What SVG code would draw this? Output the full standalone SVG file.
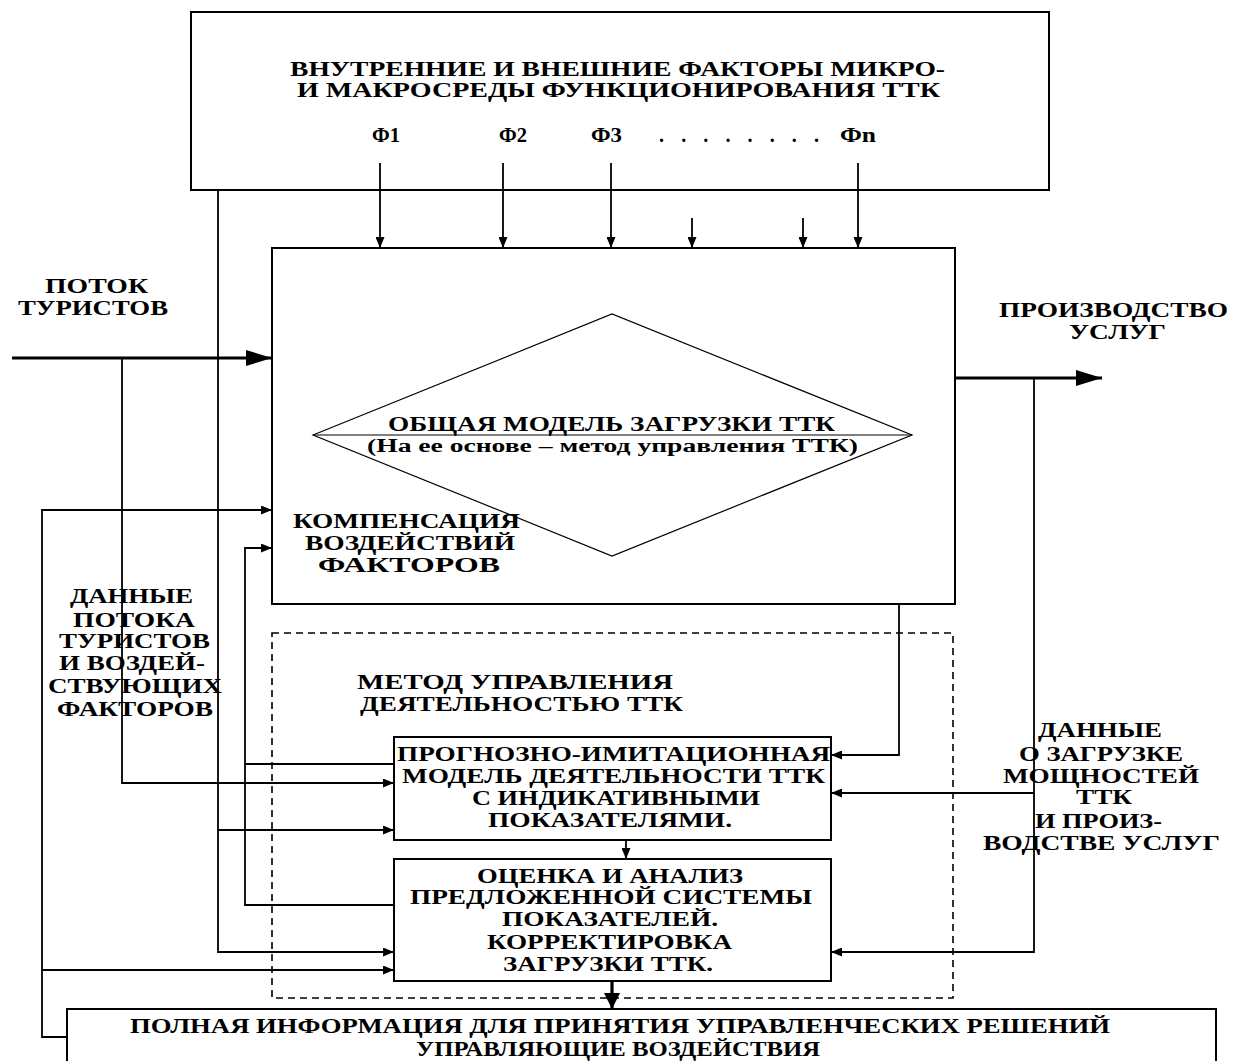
<svg xmlns="http://www.w3.org/2000/svg" width="1238" height="1061" viewBox="0 0 1238 1061">
<style>
.box{fill:none;stroke:#000;stroke-width:2}
.dash{fill:none;stroke:#000;stroke-width:1.6;stroke-dasharray:7 5}
.ln{fill:none;stroke:#000;stroke-width:1.8}
.thick{fill:none;stroke:#000;stroke-width:3.2}
.dia{fill:none;stroke:#000;stroke-width:1.2}
text{font-family:"Liberation Serif","Times New Roman",serif;font-weight:bold;font-size:20px;fill:#000}
.sm{font-size:18px}
</style>
<defs>
<marker id="a" markerUnits="userSpaceOnUse" markerWidth="11" markerHeight="9" refX="11" refY="4.5" orient="auto"><path d="M0,0 L11,4.5 L0,9 z" fill="#000"/></marker>
<marker id="A" markerUnits="userSpaceOnUse" markerWidth="26" markerHeight="16" refX="26" refY="8" orient="auto"><path d="M0,0 L26,8 L0,16 z" fill="#000"/></marker>
<marker id="B" markerUnits="userSpaceOnUse" markerWidth="16" markerHeight="18" refX="16" refY="8" orient="auto"><path d="M0,0 L16,8 L0,16 z" fill="#000"/></marker>
</defs>
<rect width="1238" height="1061" fill="#fff"/>

<g id="factors">
<rect class="box" x="191" y="12" width="858" height="178"/>
<text x="290" y="76" textLength="655" lengthAdjust="spacingAndGlyphs">ВНУТРЕННИЕ И ВНЕШНИЕ ФАКТОРЫ МИКРО-</text>
<text x="297" y="97" textLength="643" lengthAdjust="spacingAndGlyphs">И МАКРОСРЕДЫ ФУНКЦИОНИРОВАНИЯ ТТК</text>
<text x="372" y="142" textLength="28" lengthAdjust="spacingAndGlyphs">Ф1</text>
<text x="499" y="142" textLength="28" lengthAdjust="spacingAndGlyphs">Ф2</text>
<text x="591" y="142" textLength="31" lengthAdjust="spacingAndGlyphs">Ф3</text>
<text x="659" y="142" textLength="160" lengthAdjust="spacing">. . . . . . . .</text>
<text x="840" y="142" textLength="36" lengthAdjust="spacingAndGlyphs">Фn</text>
</g>

<g id="main-model">
<rect class="box" x="272" y="248" width="683" height="356"/>
<polygon class="dia" points="313,435 612,314 912,435 612,556"/>
<line class="dia" x1="313" y1="435" x2="912" y2="435"/>
<text x="388" y="431" textLength="447" lengthAdjust="spacingAndGlyphs">ОБЩАЯ МОДЕЛЬ ЗАГРУЗКИ ТТК</text>
<text class="sm" x="367" y="452" textLength="491" lengthAdjust="spacingAndGlyphs">(На ее основе – метод управления ТТК)</text>
<text x="293" y="528" textLength="227" lengthAdjust="spacingAndGlyphs">КОМПЕНСАЦИЯ</text>
<text x="305" y="550" textLength="210" lengthAdjust="spacingAndGlyphs">ВОЗДЕЙСТВИЙ</text>
<text x="318" y="572" textLength="182" lengthAdjust="spacingAndGlyphs">ФАКТОРОВ</text>
</g>

<g id="input-label">
<text x="45" y="293" textLength="103" lengthAdjust="spacingAndGlyphs">ПОТОК</text>
<text x="18" y="315" textLength="150" lengthAdjust="spacingAndGlyphs">ТУРИСТОВ</text>
</g>

<g id="output-label">
<text x="999" y="317" textLength="229" lengthAdjust="spacingAndGlyphs">ПРОИЗВОДСТВО</text>
<text x="1069" y="339" textLength="97" lengthAdjust="spacingAndGlyphs">УСЛУГ</text>
</g>

<g id="method">
<rect class="dash" x="272" y="633" width="681" height="365"/>
<text x="357" y="689" textLength="316" lengthAdjust="spacingAndGlyphs">МЕТОД   УПРАВЛЕНИЯ</text>
<text x="360" y="711" textLength="323" lengthAdjust="spacingAndGlyphs">ДЕЯТЕЛЬНОСТЬЮ ТТК</text>
</g>

<g id="forecast-model">
<rect class="box" x="394" y="737" width="437" height="103"/>
<text x="397" y="761" textLength="433" lengthAdjust="spacingAndGlyphs">ПРОГНОЗНО-ИМИТАЦИОННАЯ</text>
<text x="402" y="783" textLength="423" lengthAdjust="spacingAndGlyphs">МОДЕЛЬ ДЕЯТЕЛЬНОСТИ ТТК</text>
<text x="472" y="805" textLength="288" lengthAdjust="spacingAndGlyphs">С ИНДИКАТИВНЫМИ</text>
<text x="488" y="827" textLength="244" lengthAdjust="spacingAndGlyphs">ПОКАЗАТЕЛЯМИ.</text>
</g>

<g id="evaluation">
<rect class="box" x="394" y="859" width="437" height="122"/>
<text x="477" y="883" textLength="266" lengthAdjust="spacingAndGlyphs">ОЦЕНКА И АНАЛИЗ</text>
<text x="410" y="904" textLength="402" lengthAdjust="spacingAndGlyphs">ПРЕДЛОЖЕННОЙ СИСТЕМЫ</text>
<text x="502" y="926" textLength="216" lengthAdjust="spacingAndGlyphs">ПОКАЗАТЕЛЕЙ.</text>
<text x="487" y="949" textLength="245" lengthAdjust="spacingAndGlyphs">КОРРЕКТИРОВКА</text>
<text x="503" y="971" textLength="210" lengthAdjust="spacingAndGlyphs">ЗАГРУЗКИ ТТК.</text>
</g>

<g id="left-data-label">
<text x="70" y="603" textLength="123" lengthAdjust="spacingAndGlyphs">ДАННЫЕ</text>
<text x="73" y="627" textLength="122" lengthAdjust="spacingAndGlyphs">ПОТОКА</text>
<text x="59" y="648" textLength="151" lengthAdjust="spacingAndGlyphs">ТУРИСТОВ</text>
<text x="59" y="670" textLength="146" lengthAdjust="spacingAndGlyphs">И ВОЗДЕЙ-</text>
<text x="48" y="693" textLength="174" lengthAdjust="spacingAndGlyphs">СТВУЮЩИХ</text>
<text x="57" y="716" textLength="156" lengthAdjust="spacingAndGlyphs">ФАКТОРОВ</text>
</g>

<g id="right-data-label">
<text x="1038" y="737" textLength="124" lengthAdjust="spacingAndGlyphs">ДАННЫЕ</text>
<text x="1019" y="761" textLength="164" lengthAdjust="spacingAndGlyphs">О ЗАГРУЗКЕ</text>
<text x="1003" y="783" textLength="196" lengthAdjust="spacingAndGlyphs">МОЩНОСТЕЙ</text>
<text x="1076" y="804" textLength="56" lengthAdjust="spacingAndGlyphs">ТТК</text>
<text x="1035" y="828" textLength="127" lengthAdjust="spacingAndGlyphs">И ПРОИЗ-</text>
<text x="983" y="850" textLength="237" lengthAdjust="spacingAndGlyphs">ВОДСТВЕ УСЛУГ</text>
</g>

<g id="decisions">
<rect class="box" x="67" y="1009" width="1149" height="80"/>
<text x="130" y="1033" textLength="980" lengthAdjust="spacingAndGlyphs">ПОЛНАЯ ИНФОРМАЦИЯ ДЛЯ ПРИНЯТИЯ УПРАВЛЕНЧЕСКИХ РЕШЕНИЙ</text>
<text x="416" y="1056" textLength="404" lengthAdjust="spacingAndGlyphs">УПРАВЛЯЮЩИЕ ВОЗДЕЙСТВИЯ</text>
</g>

<g id="connectors">
<line class="ln" x1="380" y1="163" x2="380" y2="248" marker-end="url(#a)"/>
<line class="ln" x1="503" y1="163" x2="503" y2="248" marker-end="url(#a)"/>
<line class="ln" x1="611" y1="163" x2="611" y2="248" marker-end="url(#a)"/>
<line class="ln" x1="692" y1="218" x2="692" y2="248" marker-end="url(#a)"/>
<line class="ln" x1="803" y1="218" x2="803" y2="248" marker-end="url(#a)"/>
<line class="ln" x1="858" y1="163" x2="858" y2="248" marker-end="url(#a)"/>
<line class="thick" x1="12" y1="358" x2="272" y2="358" marker-end="url(#A)"/>
<line class="thick" x1="955" y1="378" x2="1102" y2="378" marker-end="url(#A)"/>
<polyline class="ln" points="122,358 122,783 394,783" marker-end="url(#a)"/>
<polyline class="ln" points="218,190 218,952 394,952" marker-end="url(#a)"/>
<line class="ln" x1="218" y1="830" x2="394" y2="830" marker-end="url(#a)"/>
<polyline class="ln" points="67,1037 42,1037 42,510 272,510" marker-end="url(#a)"/>
<line class="ln" x1="42" y1="970" x2="394" y2="970" marker-end="url(#a)"/>
<polyline class="ln" points="394,764 245,764 245,548 272,548" marker-end="url(#a)"/>
<polyline class="ln" points="394,905 245,905 245,764"/>
<polyline class="ln" points="1034,378 1034,952 831,952" marker-end="url(#a)"/>
<line class="ln" x1="1034" y1="793" x2="831" y2="793" marker-end="url(#a)"/>
<polyline class="ln" points="899,604 899,755 831,755" marker-end="url(#a)"/>
<line class="ln" x1="626" y1="840" x2="626" y2="859" marker-end="url(#a)"/>
<line class="thick" x1="612" y1="981" x2="612" y2="1009" marker-end="url(#B)"/>
</g>
</svg>
